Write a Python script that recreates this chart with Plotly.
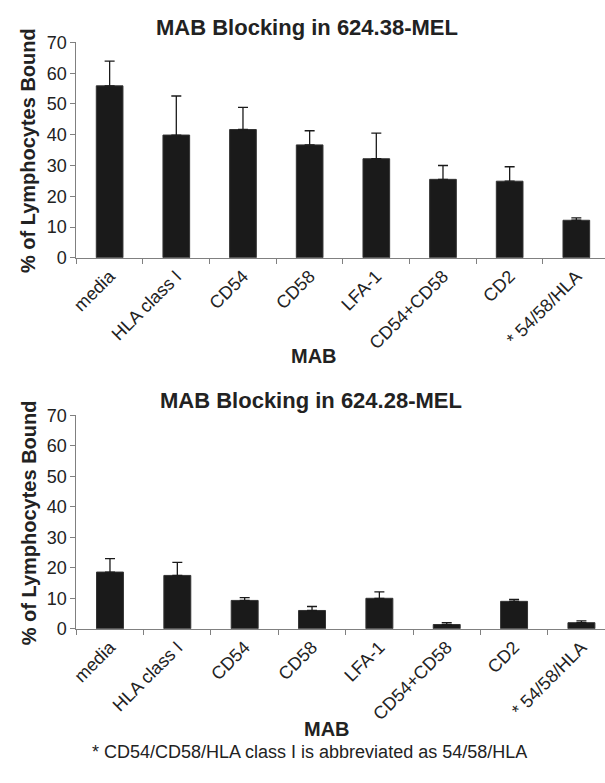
import plotly.graph_objects as go

categories = ["media", "HLA class I", "CD54", "CD58", "LFA-1", "CD54+CD58", "CD2", "* 54/58/HLA"]

top_values = [55.9, 39.9, 41.7, 36.7, 32.2, 25.5, 24.9, 12.2]
top_errors = [8.0, 12.7, 7.2, 4.6, 8.3, 4.5, 4.7, 0.8]

bottom_values = [18.6, 17.5, 9.3, 6.0, 10.0, 1.4, 9.0, 2.0]
bottom_errors = [4.4, 4.3, 0.9, 1.3, 2.1, 0.6, 0.6, 0.6]

y_ticks = [0, 10, 20, 30, 40, 50, 60, 70]

top_title = "MAB Blocking in 624.38-MEL"
bottom_title = "MAB Blocking in 624.28-MEL"
y_title = "% of Lymphocytes Bound"
x_title = "MAB"
footnote = "* CD54/CD58/HLA class I is abbreviated as 54/58/HLA"

W, H = 605, 783
FONT = "Liberation Sans, Arial, sans-serif"
BAR = "#1a1a1a"
AX = "#808080"
TXT = "#222222"


def py(p):
    return 1 - p / H


fig = go.Figure()
for vals, errs, xa, ya in [(top_values, top_errors, "x", "y"),
                           (bottom_values, bottom_errors, "x2", "y2")]:
    fig.add_trace(go.Bar(
        x=categories, y=vals, xaxis=xa, yaxis=ya,
        marker=dict(color=BAR, line=dict(color="#333333", width=1)),
        error_y=dict(type="data", array=errs, arrayminus=[0] * len(errs),
                     symmetric=False, color=BAR, thickness=1.3, width=5),
        showlegend=False,
    ))

xcommon = dict(type="category", tickson="boundaries", ticks="outside", ticklen=5,
               tickcolor=AX, showline=True, linecolor=AX, linewidth=1,
               tickangle=-45, showgrid=False, zeroline=False,
               tickfont=dict(family=FONT, size=18, color=TXT))
ycommon = dict(range=[0, 70], tickvals=y_ticks, ticks="outside", ticklen=5,
               tickcolor=AX, showline=True, linecolor=AX, linewidth=1,
               showgrid=False, zeroline=False,
               tickfont=dict(family=FONT, size=18, color=TXT))

x0 = 71 / W
fig.update_layout(
    width=W, height=H,
    margin=dict(l=0, r=0, t=0, b=0),
    paper_bgcolor="white", plot_bgcolor="white",
    bargap=0.6,
    xaxis=dict(xcommon, domain=[x0, 1], anchor="y", range=[-0.5, 7.43]),
    yaxis=dict(ycommon, domain=[py(254.3), py(33.3)], anchor="x"),
    xaxis2=dict(xcommon, domain=[x0, 1], anchor="y2", range=[-0.5, 7.35]),
    yaxis2=dict(ycommon, domain=[py(635), py(416)], anchor="x2"),
)


def ann(text, xpx, ypx, size, bold=False, angle=0):
    fig.add_annotation(
        text=f"<b>{text}</b>" if bold else text,
        x=xpx / W, y=py(ypx), xref="paper", yref="paper",
        xanchor="center", yanchor="middle", showarrow=False, textangle=angle,
        font=dict(family=FONT, size=size, color=TXT),
    )


ann(top_title, 304, 18, 22, bold=True)
ann(bottom_title, 308, 401, 22, bold=True)
ann(y_title, 23, 144, 20, bold=True, angle=-90)
ann(y_title, 23, 526, 20, bold=True, angle=-90)
ann(x_title, 311, 355, 20, bold=True)
ann(x_title, 324, 738, 20, bold=True)
ann(footnote, 307, 761, 18)

fig.write_html(
    "out.html",
    config={"displayModeBar": False},
    post_script=(
        "document.documentElement.style.margin='0';"
        "document.documentElement.style.padding='0';"
        "document.documentElement.style.overflow='hidden';"
        "document.body.style.margin='0';"
        "document.body.style.padding='0';"
        "document.body.style.overflow='hidden';"
    ),
)
